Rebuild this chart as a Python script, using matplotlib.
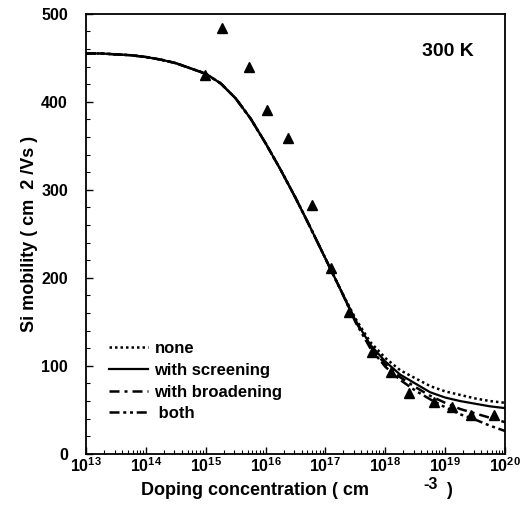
import matplotlib
matplotlib.use("Agg")
import matplotlib.pyplot as plt
from matplotlib.ticker import LogLocator, MultipleLocator, NullFormatter

plt.rcParams.update({
    "font.family": ["Liberation Sans", "DejaVu Sans"],
    "font.weight": "bold",
    "mathtext.fontset": "custom",
    "mathtext.bf": "Liberation Sans:bold",
    "mathtext.rm": "Liberation Sans:bold",
})

# doping concentration (log10 cm^-3) where the curves were read
log_n = [13, 13.25, 13.5, 13.75, 14, 14.25, 14.5, 14.75, 15, 15.25, 15.5, 15.75,
         16, 16.25, 16.5, 16.75, 17, 17.25, 17.5, 17.75, 18, 18.25, 18.5, 18.75,
         19, 19.25, 19.5, 19.75, 20]
mu_screen = [455, 455, 454, 453, 451, 448, 444, 438, 432, 421, 404, 381,
             353, 323, 291, 257, 222, 187, 152, 124, 105, 90, 80, 70,
             64, 60, 57, 54, 52]
mu_none = mu_screen[:18] + [154, 127, 109, 95, 86, 77, 71, 67, 63, 60, 58]
mu_broad = mu_screen[:18] + [151, 122, 102, 87, 76, 66, 58, 51, 46, 41, 36]
mu_both = mu_screen[:18] + [150, 120, 99, 84, 72, 62, 53, 45, 39, 32, 26]

# measured points
meas_log_n = [14.99, 15.28, 15.72, 16.03, 16.37, 16.78, 17.09, 17.4, 17.78,
              18.1, 18.4, 18.82, 19.12, 19.43, 19.82]
meas_mu = [430, 484, 440, 391, 359, 283, 211, 161, 116, 93, 69, 59, 53, 44, 44]

xticks = [13, 14, 15, 16, 17, 18, 19, 20]
yticks = [0, 100, 200, 300, 400, 500]

conc = [10.0 ** v for v in log_n]
meas_conc = [10.0 ** v for v in meas_log_n]

fig = plt.figure(figsize=(5.31, 5.14), dpi=100)
ax = fig.add_axes([0.162, 0.117, 0.789, 0.856])

ax.plot(conc, mu_none, color="black", lw=1.8, ls=(0, (1, 1.2)), label="none")
ax.plot(conc, mu_screen, color="black", lw=1.6, ls="-", label="with screening")
ax.plot(conc, mu_broad, color="black", lw=1.8, ls=(0, (4, 2, 1.2, 2)), label="with broadening")
ax.plot(conc, mu_both, color="black", lw=1.8, ls=(0, (4, 1.5, 1.2, 1.5, 1.2, 1.5)), label=" both")
ax.plot(meas_conc, meas_mu, ls="none", marker="^", ms=7.5, color="black")

ax.set_xscale("log")
ax.set_xlim(1e13, 1e20)
ax.set_ylim(0, 500)
ax.set_xticks([10.0 ** v for v in xticks])
ax.set_xticklabels([r"$\mathbf{10^{%d}}$" % v for v in xticks], fontsize=11.5)
ax.xaxis.set_minor_locator(LogLocator(base=10, subs=range(2, 10), numticks=20))
ax.xaxis.set_minor_formatter(NullFormatter())
ax.set_yticks(yticks)
ax.set_yticklabels([str(v) for v in yticks], fontsize=11.5, fontweight="bold")
ax.yaxis.set_minor_locator(MultipleLocator(20))
ax.tick_params(which="major", direction="in", length=5, width=1)
ax.tick_params(axis="y", which="major", pad=13)
ax.tick_params(axis="x", which="major", pad=2)
ax.tick_params(which="minor", direction="in", length=3, width=0.8)
for s in ax.spines.values():
    s.set_linewidth(1.3)

ax.text(0.925, 0.915, "300 K", transform=ax.transAxes, ha="right", va="center",
        fontsize=14, fontweight="bold")

leg = ax.legend(loc="upper left", bbox_to_anchor=(0.02, 0.29), frameon=False,
                fontsize=12, handlelength=2.3, handletextpad=0.4, labelspacing=0.4)
for t in leg.get_texts():
    t.set_fontweight("bold")

fig.text(0.056, 0.545, "Si mobility ( cm  2 /Vs )", rotation=90, ha="center", va="center",
         fontsize=13, fontweight="bold")
fig.text(0.265, 0.045, "Doping concentration ( cm", ha="left", va="center",
         fontsize=13, fontweight="bold")
fig.text(0.81, 0.058, "-3", ha="center", va="center", fontsize=11.5, fontweight="bold")
fig.text(0.845, 0.045, ")", ha="center", va="center", fontsize=13, fontweight="bold")

fig.savefig("out.png", dpi=100)
